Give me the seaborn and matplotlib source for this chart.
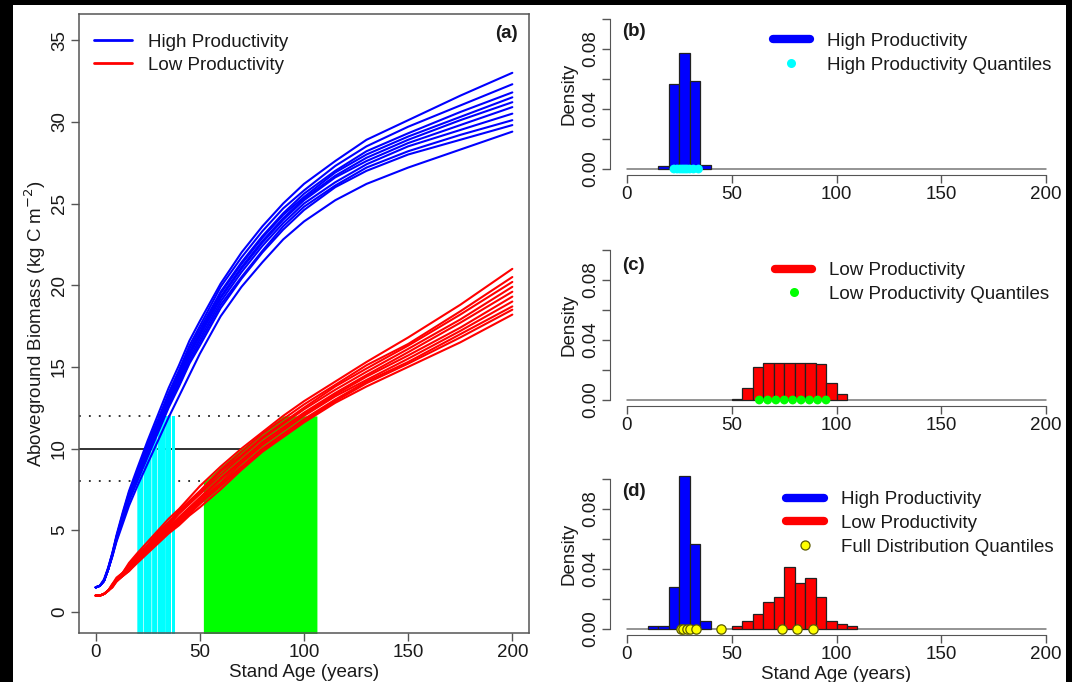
import numpy as np
import pandas as pd
import matplotlib
matplotlib.use("Agg")
import matplotlib.pyplot as plt
from matplotlib.lines import Line2D
from matplotlib.patches import Rectangle
import seaborn as sns

# ---------------- data ----------------
ages = [0, 2, 4, 6, 8, 10, 13, 16, 20, 25, 30, 35, 40, 45, 50, 60, 70, 80, 90, 100, 115, 130, 150, 175, 200]

high_curves = [
    [1.5, 1.6, 2.0, 2.7, 3.6, 4.7, 6.1, 7.4, 8.8, 10.5, 12.1, 13.7, 15.1, 16.6, 17.8, 20.1, 22.0, 23.6, 25.0, 26.2, 27.6, 28.9, 30.1, 31.6, 33.0],
    [1.5, 1.6, 1.9, 2.7, 3.6, 4.6, 6.0, 7.3, 8.6, 10.3, 11.8, 13.4, 14.8, 16.3, 17.5, 19.9, 21.7, 23.3, 24.7, 25.8, 27.3, 28.5, 29.7, 31.0, 32.3],
    [1.5, 1.6, 1.9, 2.6, 3.5, 4.6, 5.9, 7.2, 8.5, 10.1, 11.7, 13.2, 14.6, 16.1, 17.3, 19.6, 21.4, 23.0, 24.4, 25.6, 27.0, 28.2, 29.3, 30.6, 31.8],
    [1.5, 1.6, 1.9, 2.6, 3.5, 4.5, 5.9, 7.1, 8.4, 10.0, 11.6, 13.1, 14.5, 15.9, 17.1, 19.5, 21.3, 22.9, 24.3, 25.4, 26.9, 28.0, 29.1, 30.3, 31.5],
    [1.5, 1.6, 1.9, 2.6, 3.5, 4.5, 5.8, 7.0, 8.3, 10.0, 11.5, 13.0, 14.4, 15.8, 17.0, 19.3, 21.1, 22.7, 24.1, 25.3, 26.7, 27.8, 28.9, 30.1, 31.2],
    [1.5, 1.6, 1.9, 2.6, 3.5, 4.5, 5.8, 7.0, 8.3, 9.9, 11.4, 12.9, 14.3, 15.7, 16.9, 19.2, 21.0, 22.6, 24.0, 25.2, 26.6, 27.6, 28.7, 29.8, 30.9],
    [1.5, 1.6, 1.9, 2.6, 3.5, 4.5, 5.7, 6.9, 8.2, 9.8, 11.2, 12.7, 14.1, 15.5, 16.7, 19.0, 20.8, 22.4, 23.8, 25.0, 26.3, 27.4, 28.5, 29.5, 30.5],
    [1.5, 1.6, 1.9, 2.6, 3.5, 4.4, 5.6, 6.8, 8.1, 9.6, 11.1, 12.6, 13.9, 15.3, 16.5, 18.8, 20.5, 22.1, 23.6, 24.8, 26.1, 27.2, 28.2, 29.2, 30.1],
    [1.5, 1.6, 1.9, 2.6, 3.4, 4.4, 5.6, 6.8, 8.0, 9.5, 11.0, 12.5, 13.8, 15.2, 16.3, 18.6, 20.4, 22.0, 23.4, 24.6, 26.0, 27.0, 28.0, 28.9, 29.8],
    [1.5, 1.6, 1.9, 2.6, 3.4, 4.3, 5.4, 6.5, 7.7, 9.1, 10.5, 11.9, 13.2, 14.5, 15.8, 18.1, 19.9, 21.4, 22.8, 23.9, 25.2, 26.2, 27.2, 28.3, 29.4],
]

low_curves = [
    [1.0, 1.0, 1.1, 1.3, 1.7, 2.1, 2.4, 3.0, 3.6, 4.3, 5.0, 5.7, 6.3, 7.0, 7.7, 8.9, 10.0, 11.0, 12.0, 12.9, 14.1, 15.3, 16.8, 18.8, 21.0],
    [1.0, 1.0, 1.1, 1.3, 1.7, 2.0, 2.4, 2.9, 3.5, 4.1, 4.9, 5.5, 6.2, 6.8, 7.4, 8.7, 9.8, 10.9, 11.8, 12.7, 13.9, 15.1, 16.4, 18.4, 20.5],
    [1.0, 1.0, 1.1, 1.3, 1.6, 2.0, 2.4, 2.8, 3.4, 4.1, 4.8, 5.4, 6.1, 6.7, 7.3, 8.6, 9.6, 10.7, 11.6, 12.5, 13.8, 14.9, 16.3, 18.2, 20.2],
    [1.0, 1.0, 1.1, 1.3, 1.6, 2.0, 2.3, 2.8, 3.4, 4.0, 4.7, 5.3, 6.0, 6.6, 7.2, 8.4, 9.5, 10.6, 11.5, 12.4, 13.6, 14.7, 16.1, 17.9, 19.9],
    [1.0, 1.0, 1.1, 1.3, 1.6, 1.9, 2.3, 2.7, 3.3, 3.9, 4.6, 5.2, 5.8, 6.4, 7.0, 8.2, 9.3, 10.4, 11.3, 12.2, 13.4, 14.5, 15.9, 17.7, 19.6],
    [1.0, 1.0, 1.1, 1.3, 1.6, 1.9, 2.3, 2.7, 3.3, 3.9, 4.5, 5.1, 5.7, 6.3, 6.9, 8.1, 9.2, 10.3, 11.2, 12.1, 13.3, 14.4, 15.7, 17.4, 19.3],
    [1.0, 1.0, 1.1, 1.3, 1.6, 1.9, 2.3, 2.6, 3.2, 3.8, 4.5, 5.0, 5.6, 6.2, 6.8, 7.9, 9.1, 10.2, 11.1, 12.0, 13.2, 14.2, 15.5, 17.2, 19.0],
    [1.0, 1.0, 1.1, 1.3, 1.6, 1.9, 2.2, 2.6, 3.1, 3.7, 4.4, 4.9, 5.5, 6.1, 6.7, 7.8, 8.9, 10.0, 10.9, 11.8, 13.0, 14.1, 15.3, 17.0, 18.7],
    [1.0, 1.0, 1.1, 1.3, 1.5, 1.9, 2.2, 2.5, 3.1, 3.7, 4.3, 4.9, 5.4, 6.0, 6.6, 7.7, 8.8, 9.9, 10.8, 11.7, 12.9, 14.0, 15.2, 16.8, 18.5],
    [1.0, 1.0, 1.1, 1.3, 1.5, 1.85, 2.2, 2.5, 3.0, 3.6, 4.2, 4.8, 5.3, 5.9, 6.4, 7.5, 8.7, 9.8, 10.7, 11.6, 12.8, 13.8, 15.0, 16.5, 18.2],
]

biomass_target = 10
biomass_low, biomass_high = 8, 12
high_window_edges = [19.6, 22.8, 26.7, 29.5, 33.6, 36.4, 38.3]
low_window_edges = [51.7, 106.2]

hist_b_edges = [15, 20, 25, 30, 35, 40]
hist_b_density = [0.002, 0.057, 0.077, 0.059, 0.003]
quant_b = [22.5, 24.0, 25.3, 26.5, 27.6, 28.7, 30.0, 31.8, 34.2]

hist_c_edges = [50, 55, 60, 65, 70, 75, 80, 85, 90, 95, 100, 105]
hist_c_density = [0.0005, 0.0078, 0.022, 0.025, 0.025, 0.025, 0.025, 0.025, 0.024, 0.0115, 0.0038]
quant_c = [63.2, 67.2, 71.1, 75.1, 79.1, 83.1, 87.1, 91.0, 95.0]

hist_d_high_edges = [10, 15, 20, 25, 30, 35, 40]
hist_d_high_density = [0.002, 0.002, 0.0277, 0.102, 0.0567, 0.0055]
hist_d_low_edges = [50, 55, 60, 65, 70, 75, 80, 85, 90, 95, 100, 105, 110]
hist_d_low_density = [0.0022, 0.0055, 0.010, 0.0177, 0.0215, 0.0415, 0.031, 0.0337, 0.0215, 0.0055, 0.0035, 0.0022]
quant_d = [25.8, 27.0, 28.8, 30.1, 32.9, 44.7, 73.8, 81.0, 88.6]

x_ticks = [0, 50, 100, 150, 200]
a_y_ticks = [0, 5, 10, 15, 20, 25, 30, 35]
dens_ticks = [0.0, 0.02, 0.04, 0.06, 0.08, 0.10]
dens_labels = ["0.00", "", "0.04", "", "0.08", ""]

# ---------------- style ----------------
sns.set_style("white")
plt.rcParams['font.family'] = ['Liberation Sans', 'DejaVu Sans']
FS = 13.5
TXT = '#1a1a1a'
AX = '#555555'
plt.rcParams.update({
    'axes.edgecolor': AX, 'xtick.color': AX, 'ytick.color': AX,
    'xtick.labelcolor': TXT, 'ytick.labelcolor': TXT,
    'text.color': TXT, 'axes.labelcolor': TXT,
})

W, H = 1072, 682
fig = plt.figure(figsize=(W / 100, H / 100), dpi=100, facecolor='black')
fig.patches.append(Rectangle((13 / W, 0), (1066 - 13) / W, (H - 5) / H,
                             transform=fig.transFigure, facecolor='white',
                             edgecolor='none', zorder=-10))


def px_axes(x0, x1, y0, y1):
    return fig.add_axes([x0 / W, 1 - y1 / H, (x1 - x0) / W, (y1 - y0) / H])


# ---------------- panel (a) ----------------
ax = px_axes(79, 529, 14, 633)
ax.set_xlim(-8, 208)
ax.set_ylim(-1.29, 36.6)
ages_arr = np.array(ages, dtype=float)
high_arr = np.array(high_curves)
low_arr = np.array(low_curves)


def upper_env(curves, x):
    return np.max([np.interp(x, ages_arr, c) for c in curves], axis=0)


# cyan strips (ages at which high-productivity stands fall in the 8-12 band)
for lo, hi in zip(high_window_edges[:-1], high_window_edges[1:]):
    xs = np.linspace(lo + 0.15, hi - 0.15, 40)
    top = np.minimum(biomass_high, upper_env(high_arr, xs))
    ax.fill_between(xs, -5, top, color='#00FFFF', lw=0, zorder=1)
# green region
xs = np.linspace(low_window_edges[0], low_window_edges[1], 200)
top = np.minimum(biomass_high, upper_env(low_arr, xs))
ax.fill_between(xs, -5, top, color='#00FF00', lw=0, zorder=1)

# reference lines ending at the top low-productivity curve
for lvl, ls in [(biomass_target, '-'), (biomass_low, (0, (1, 4.5))), (biomass_high, (0, (1, 4.5)))]:
    xend = np.interp(lvl, upper_env(low_arr, ages_arr), ages_arr)
    ax.plot([-8, xend], [lvl, lvl], color='#222222', lw=1.3, ls=ls, zorder=0.5)

rows = []
for g, curves in [('High Productivity', high_curves), ('Low Productivity', low_curves)]:
    for i, c in enumerate(curves):
        for a, v in zip(ages, c):
            rows.append((g, f'{g}{i}', a, v))
df = pd.DataFrame(rows, columns=['group', 'curve', 'age', 'biomass'])
sns.lineplot(data=df, x='age', y='biomass', hue='group', units='curve', estimator=None,
             palette={'High Productivity': '#0000FF', 'Low Productivity': '#FF0000'},
             lw=1.5, ax=ax, legend=False, zorder=3)

ax.set_xticks(x_ticks)
ax.set_yticks(a_y_ticks)
ax.tick_params(direction='out', length=6, width=1, labelsize=FS, pad=2, left=True, bottom=True)
for lab in ax.get_yticklabels():
    lab.set_rotation(90)
    lab.set_va('center')
for s in ax.spines.values():
    s.set_linewidth(1.1)
ax.set_xlabel('Stand Age (years)', fontsize=FS, labelpad=2)
ax.set_ylabel('Aboveground Biomass (kg C m$^{-2}$)', fontsize=FS, labelpad=2)
ax.text(0.975, 0.968, '(a)', transform=ax.transAxes, ha='right', va='center',
        fontsize=FS, fontweight='bold')
leg = ax.legend([Line2D([], [], color='#0000FF', lw=2), Line2D([], [], color='#FF0000', lw=2)],
                ['High Productivity', 'Low Productivity'], loc='upper left',
                bbox_to_anchor=(0.005, 0.989), frameon=False, fontsize=FS,
                handlelength=2.0, handletextpad=0.85, labelspacing=0.31, borderaxespad=0.3)

# ---------------- histogram panels ----------------


def hist_panel(y0, y1):
    a = px_axes(610, 1063, y0, y1)
    a.set_xlim(-8, 208)
    a.set_ylim(-0.004, 0.104)
    a.plot([0, 200], [0, 0], color='#777777', lw=1.1, zorder=1)
    return a


def hist(a, edges, dens, color):
    e = [float(v) for v in edges]
    d = pd.DataFrame({'age': [(l + r) / 2 for l, r in zip(e[:-1], e[1:])], 'density': dens})
    sns.histplot(data=d, x='age', weights='density', bins=e, stat='count', color=color, alpha=1,
                 edgecolor='#222222', linewidth=0.9, ax=a, zorder=2)


def finish(a, label_y, tag):
    for s in ['top', 'right']:
        a.spines[s].set_visible(False)
    a.spines['bottom'].set_bounds(0, 200)
    a.spines['left'].set_bounds(0, 0.10)
    a.set_xlim(-8, 208)
    a.set_ylim(-0.004, 0.104)
    a.set_xticks(x_ticks)
    a.set_yticks(dens_ticks)
    a.set_yticklabels(dens_labels)
    a.tick_params(direction='out', length=6, width=1, labelsize=FS, pad=2, left=True, bottom=True)
    for lab in a.get_yticklabels():
        lab.set_rotation(90)
        lab.set_va('center')
    a.set_ylabel('Density', fontsize=FS, labelpad=3)
    a.set_xlabel('')
    fig.text(622 / W, 1 - label_y / H, tag, ha='left', va='center', fontsize=FS, fontweight='bold')


LEG = dict(loc='upper left', frameon=False, fontsize=FS, handlelength=2.0,
           handletextpad=0.9, labelspacing=0.36, borderaxespad=0.3)

# (b)
axb = hist_panel(13, 175)
hist(axb, hist_b_edges, hist_b_density, '#0000FF')
sns.scatterplot(x=quant_b, y=[0] * len(quant_b), color='#00FFFF', s=40, edgecolor='none',
                ax=axb, zorder=4, clip_on=False)
finish(axb, 31, '(b)')
axb.legend([Line2D([], [], color='#0000FF', lw=6, solid_capstyle='round'),
            Line2D([], [], color='#00FFFF', lw=0, marker='o', markersize=6.5, markeredgewidth=0)],
           ['High Productivity', 'High Productivity Quantiles'],
           bbox_to_anchor=(0.33, 0.96), **LEG)

# (c)
axc = hist_panel(244, 406)
hist(axc, hist_c_edges, hist_c_density, '#FF0000')
sns.scatterplot(x=quant_c, y=[0] * len(quant_c), color='#00FF00', s=40, edgecolor='none',
                ax=axc, zorder=4, clip_on=False)
finish(axc, 265, '(c)')
axc.legend([Line2D([], [], color='#FF0000', lw=6, solid_capstyle='round'),
            Line2D([], [], color='#00FF00', lw=0, marker='o', markersize=6.5, markeredgewidth=0)],
           ['Low Productivity', 'Low Productivity Quantiles'],
           bbox_to_anchor=(0.335, 0.97), **LEG)

# (d)
axd = hist_panel(473, 635)
hist(axd, hist_d_high_edges, hist_d_high_density, '#0000FF')
hist(axd, hist_d_low_edges, hist_d_low_density, '#FF0000')
sns.scatterplot(x=quant_d, y=[0] * len(quant_d), color='#FFFF00', s=45, edgecolor='#5a5a00',
                linewidth=0.9, ax=axd, zorder=4, clip_on=False)
finish(axd, 492, '(d)')
axd.set_xlabel('Stand Age (years)', fontsize=FS, labelpad=2)
axd.legend([Line2D([], [], color='#0000FF', lw=6, solid_capstyle='round'),
            Line2D([], [], color='#FF0000', lw=6, solid_capstyle='round'),
            Line2D([], [], color='#FFFF00', lw=0, marker='o', markersize=6.5,
                   markeredgecolor='#5a5a00', markeredgewidth=0.9)],
           ['High Productivity', 'Low Productivity', 'Full Distribution Quantiles'],
           bbox_to_anchor=(0.36, 0.97), **LEG)

fig.savefig('out.png', dpi=100, facecolor=fig.get_facecolor())
